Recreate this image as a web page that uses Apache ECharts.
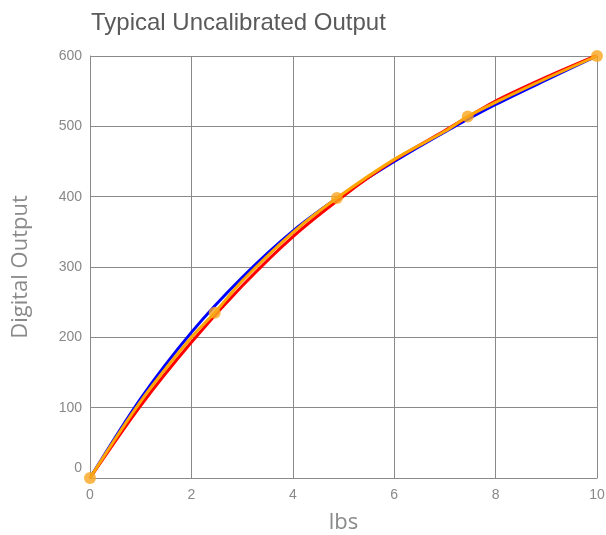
<!DOCTYPE html>
<html>
<head>
<meta charset="utf-8">
<script src="https://cdn.jsdelivr.net/npm/echarts@6/dist/echarts.min.js"></script>
<style>html,body{margin:0;padding:0;background:#fff}#c{width:606px;height:535px}</style>
</head>
<body>
<div id="c"></div>
<script>
var xTicks = [0, 2, 4, 6, 8, 10];
var yTicks = [0, 100, 200, 300, 400, 500, 600];
var curveLbs = [0, 1, 2, 3, 4, 5, 6, 7, 8, 9, 10];
var blueOutput = [0, 113, 207, 285, 351, 404, 450, 492, 531, 566, 600];
var redOutput = [0, 103, 193, 273, 343, 401, 452, 494, 536, 570, 601];
var orangeLbs = [0, 1, 2, 2.46, 3, 4, 4.87, 6, 7, 7.45, 8, 9, 10];
var orangeOutput = [0, 109, 200, 235, 280, 349, 398, 453, 493, 514, 534, 568, 600];
var markerLbs = [0, 2.46, 4.87, 7.45, 10];
var markerOutput = [0, 235, 398, 514, 600];

function pairs(xs, ys) { return xs.map(function (x, i) { return [x, ys[i]]; }); }

var chart = echarts.init(document.getElementById('c'));
var gridLine = { lineStyle: { color: '#8a8a8a', width: 1 } };
chart.setOption({
  animation: false,
  title: {
    text: 'Typical Uncalibrated Output',
    left: 86, top: 6,
    textStyle: { fontFamily: 'Liberation Sans, Arial', fontSize: 24, fontWeight: 'normal', color: '#5a5a5a' }
  },
  grid: { left: 90, right: 9, top: 56, bottom: 57, containLabel: false, outerBoundsMode: 'none' },
  xAxis: {
    type: 'value', min: xTicks[0], max: xTicks[xTicks.length - 1], interval: 2,
    name: 'lbs', nameLocation: 'middle', nameGap: 34,
    nameTextStyle: { fontFamily: 'Open Sans', fontSize: 22, color: '#8a8a8a' },
    axisLine: { show: true, lineStyle: { color: '#8a8a8a', width: 1 } },
    axisTick: { show: false },
    splitLine: gridLine,
    axisLabel: { fontFamily: 'Liberation Sans, Arial', fontSize: 14, color: '#888', margin: 10 }
  },
  yAxis: {
    type: 'value', min: yTicks[0], max: yTicks[yTicks.length - 1], interval: 100,
    name: 'Digital Output', nameLocation: 'middle', nameGap: 58,
    nameTextStyle: { fontFamily: 'Open Sans', fontSize: 22, color: '#8a8a8a' },
    axisLine: { show: true, lineStyle: { color: '#8a8a8a', width: 1 } },
    axisTick: { show: false },
    splitLine: gridLine,
    axisLabel: {
      fontFamily: 'Liberation Sans, Arial', fontSize: 14, color: '#888', margin: 8,
      formatter: function (v) { return v === 0 ? '{z|0}' : String(v); },
      rich: { z: { fontFamily: 'Liberation Sans, Arial', fontSize: 14, color: '#888', padding: [0, 0, 20, 0] } }
    }
  },
  series: [
    { type: 'line', data: pairs(curveLbs, blueOutput), smooth: 0.3, symbol: 'none',
      lineStyle: { color: '#0000ff', width: 3 }, z: 2 },
    { type: 'line', data: pairs(curveLbs, redOutput), smooth: 0.3, symbol: 'none',
      lineStyle: { color: '#ff0000', width: 3 }, z: 3 },
    { type: 'line', data: pairs(orangeLbs, orangeOutput), smooth: 0.3, symbol: 'none',
      lineStyle: { color: '#ffa500', width: 3 }, z: 4 },
    { type: 'scatter', data: pairs(markerLbs, markerOutput), symbol: 'circle', symbolSize: 12,
      itemStyle: { color: '#f9a61f' }, z: 5 }
  ]
});
</script>
</body>
</html>
